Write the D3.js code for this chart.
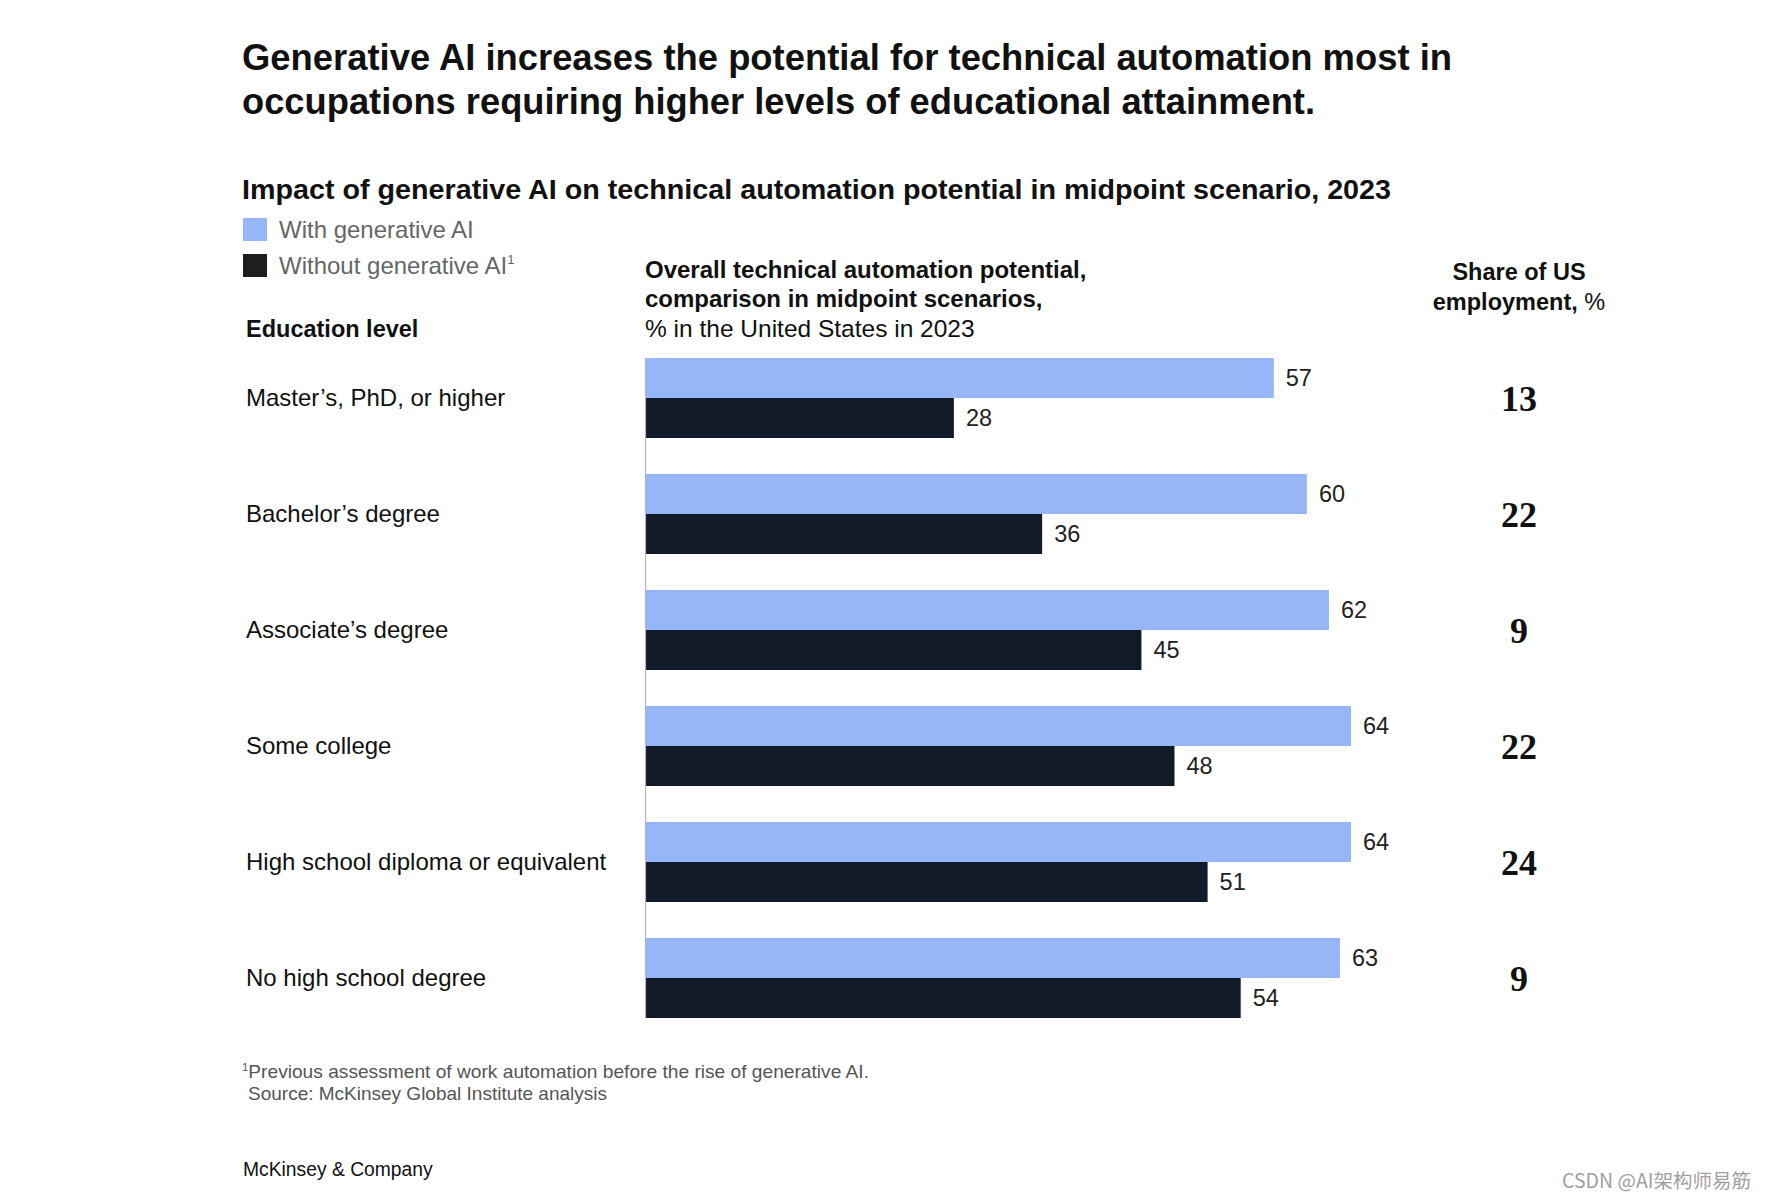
<!DOCTYPE html>
<html>
<head>
<meta charset="utf-8">
<script src="https://cdn.jsdelivr.net/npm/d3@7"></script>
<style>
  html, body { margin: 0; padding: 0; background: #fff; }
  svg { display: block; font-family: "Liberation Sans", Arial, sans-serif; }
</style>
</head>
<body>
<svg id="chart" width="1766" height="1200"></svg>
<script>
// ---- Data ----
const categories = [
  "Master\u2019s, PhD, or higher",
  "Bachelor\u2019s degree",
  "Associate\u2019s degree",
  "Some college",
  "High school diploma or equivalent",
  "No high school degree"
];
const withGenAI = [57, 60, 62, 64, 64, 63];
const withoutGenAI = [28, 36, 45, 48, 51, 54];
const employmentShare = [13, 22, 9, 22, 24, 9];
const seriesNames = ["With generative AI", "Without generative AI"];

// ---- Styles ----
const colLight = "#96b6f8";
const colDark = "#101a28";

const svg = d3.select("#chart");

// stretch a text to a target width (reference font is wider than Arial)
function fit(sel, w) {
  sel.attr("textLength", w).attr("lengthAdjust", "spacingAndGlyphs");
  return sel;
}

// Title
const title = svg.append("g");
fit(title.append("text").attr("x", 242).attr("y", 70)
  .attr("font-size", 36).attr("font-weight", 700).attr("fill", "#111")
  .text("Generative AI increases the potential for technical automation most in"), 1210);
fit(title.append("text").attr("x", 242).attr("y", 114)
  .attr("font-size", 36).attr("font-weight", 700).attr("fill", "#111")
  .text("occupations requiring higher levels of educational attainment."), 1073);

// Subtitle
fit(svg.append("text").attr("x", 242).attr("y", 199)
  .attr("font-size", 27).attr("font-weight", 700).attr("fill", "#111")
  .text("Impact of generative AI on technical automation potential in midpoint scenario, 2023"), 1149);

// Legend
const legend = svg.append("g");
const legendColors = [colLight, "#1e1e1e"];
seriesNames.forEach((name, i) => {
  const y = 218 + i * 36;
  legend.append("rect").attr("x", 243).attr("y", y).attr("width", 24).attr("height", 23)
    .attr("fill", legendColors[i]);
  const t = legend.append("text").attr("x", 279).attr("y", y + 20)
    .attr("font-size", 24).attr("fill", "#666").text(name);
  if (i === 1) {
    t.append("tspan").attr("font-size", 13).attr("dy", -10).text("1");
  }
});

// Column headers
svg.append("text").attr("x", 246).attr("y", 337)
  .attr("font-size", 23.5).attr("font-weight", 700).attr("fill", "#111")
  .text("Education level");

const hdr = svg.append("g");
hdr.append("text").attr("x", 645).attr("y", 278)
  .attr("font-size", 24).attr("font-weight", 700).attr("fill", "#111")
  .text("Overall technical automation potential,");
hdr.append("text").attr("x", 645).attr("y", 307)
  .attr("font-size", 24).attr("font-weight", 700).attr("fill", "#111")
  .text("comparison in midpoint scenarios,");
hdr.append("text").attr("x", 645).attr("y", 337)
  .attr("font-size", 24.5).attr("fill", "#111")
  .text("% in the United States in 2023");

const shareX = 1519;
svg.append("text").attr("x", shareX).attr("y", 280).attr("text-anchor", "middle")
  .attr("font-size", 23.5).attr("font-weight", 700).attr("fill", "#111")
  .text("Share of US");
const sh2 = svg.append("text").attr("x", shareX).attr("y", 310).attr("text-anchor", "middle")
  .attr("font-size", 23.5).attr("font-weight", 700).attr("fill", "#111");
sh2.append("tspan").text("employment, ");
sh2.append("tspan").attr("font-weight", 400).text("%");

// Scales
const x = d3.scaleLinear().domain([0, 64]).range([645, 1351]);
const y0 = d3.scaleBand().domain(categories).range([358, 1018]).paddingInner(36 / 116).paddingOuter(0);
const y1 = d3.scaleBand().domain(seriesNames).range([0, y0.bandwidth()]);

const rows = categories.map((c, i) => ({
  cat: c,
  vals: [
    { s: seriesNames[0], v: withGenAI[i], color: colLight },
    { s: seriesNames[1], v: withoutGenAI[i], color: colDark }
  ],
  share: employmentShare[i]
}));

const groups = svg.append("g").selectAll("g").data(rows).join("g")
  .attr("transform", d => `translate(0,${y0(d.cat)})`);

groups.selectAll("rect").data(d => d.vals).join("rect")
  .attr("x", x(0))
  .attr("y", d => y1(d.s))
  .attr("width", d => x(d.v) - x(0))
  .attr("height", y1.bandwidth())
  .attr("fill", d => d.color);

groups.selectAll("text.val").data(d => d.vals).join("text")
  .attr("class", "val")
  .attr("x", d => x(d.v) + 12)
  .attr("y", d => y1(d.s) + y1.bandwidth() / 2)
  .attr("dy", "0.35em")
  .attr("font-size", 23.5).attr("fill", "#222")
  .text(d => d.v);

// Category labels
groups.append("text")
  .attr("x", 246)
  .attr("y", y0.bandwidth() / 2)
  .attr("dy", "0.35em")
  .attr("font-size", 24).attr("fill", "#111")
  .text(d => d.cat);

// Share values
groups.append("text")
  .attr("x", shareX)
  .attr("y", y0.bandwidth() / 2)
  .attr("dy", "0.36em")
  .attr("text-anchor", "middle")
  .attr("font-family", "'Liberation Serif', 'DejaVu Serif', serif")
  .attr("font-size", 36).attr("font-weight", 700).attr("fill", "#111")
  .text(d => d.share);

// Axis baseline
const yAxis = d3.axisLeft(y0).tickSize(0).tickFormat("");
svg.append("g").attr("transform", `translate(${x(0)},0)`).call(yAxis)
  .call(g => g.select(".domain").attr("stroke", "#b5b5b5").attr("stroke-width", 1.2));

// Footnotes
const foot = svg.append("g").attr("font-size", 18.5).attr("fill", "#555");
const f1 = foot.append("text").attr("x", 242).attr("y", 1078);
f1.append("tspan").attr("font-size", 11).attr("dy", -7).text("1");
f1.append("tspan").attr("dy", 7).text("Previous assessment of work automation before the rise of generative AI.");
fit(f1, 627);
fit(foot.append("text").attr("x", 248).attr("y", 1100).text("Source: McKinsey Global Institute analysis"), 359);

svg.append("text").attr("x", 243).attr("y", 1176)
  .attr("font-size", 19.3).attr("fill", "#111").text("McKinsey & Company");

// Watermark
svg.append("text").attr("x", 1751).attr("y", 1188).attr("text-anchor", "end")
  .attr("font-family", "'Noto Sans CJK SC', 'Liberation Sans', sans-serif")
  .attr("font-size", 19.5).attr("fill", "#a0a0a0").text("CSDN @AI架构师易筋");
</script>
</body>
</html>
